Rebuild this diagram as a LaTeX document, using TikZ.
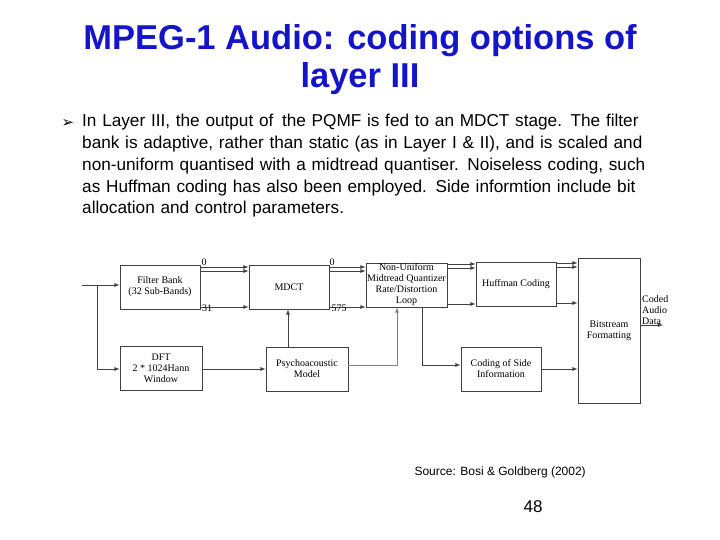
\documentclass[tikz,border=0pt]{standalone}
\usepackage{fontspec}
\setmainfont{Liberation Sans}
\newfontfamily\dfont{Liberation Serif}
\newfontfamily\djvfont{DejaVu Sans}
\definecolor{tblue}{RGB}{20,20,200}
\begin{document}
\begin{tikzpicture}[x=1pt,y=-1pt,
 blk/.style={draw=black!75,line width=0.8pt,fill=white,inner sep=0pt,font=\dfont\fontsize{10}{11}\selectfont,align=center},
 ln/.style={draw=black!75,line width=0.8pt},
 ar/.style={ln,-latex},
 lab/.style={font=\dfont\fontsize{10}{11}\selectfont,inner sep=0pt}]
\useasboundingbox (0,0) rectangle (720,540);
\node[font=\bfseries\fontsize{34.5}{38}\selectfont,text=tblue,align=center] (title) at (360,60) {MPEG-1 Audio: coding options of\\layer III};
\node[font=\djvfont\fontsize{15}{15}\selectfont] (bul) at (68,124) {➢};
\node[anchor=north west,align=left,text width=640pt,font=\fontsize{17.2}{21.8}\selectfont,inner sep=0pt] (body) at (82,114) {In Layer III, the output of\, the PQMF is fed to an MDCT stage. The filter\\bank is adaptive, rather than static (as in Layer I \& II), and is scaled and\\non-uniform quantised with a midtread quantiser. Noiseless coding, such\\as Huffman coding has also been employed. Side informtion include bit\\allocation and control parameters.};

\node[blk,minimum width=80pt,minimum height=44pt] (fb) at (160,287) {Filter Bank\\(32 Sub-Bands)};
\node[blk,minimum width=80pt,minimum height=44pt] (mdct) at (289,287) {MDCT};
\node[blk,minimum width=81pt,minimum height=44pt] (nu) at (406.5,285) {Non-Uniform\\Midtread Quantizer\\Rate/Distortion\\Loop};
\node[blk,minimum width=80pt,minimum height=44pt] (hc) at (516,284) {Huffman Coding};
\node[blk,minimum width=62pt,minimum height=145pt] (bs) at (609,330.5) {Bitstream\\Formatting};
\node[blk,minimum width=82pt,minimum height=44pt] (dft) at (161,368) {DFT\\2 * 1024Hann\\Window};
\node[blk,minimum width=82pt,minimum height=44pt] (pm) at (307,369) {Psychoacoustic\\Model};
\node[blk,minimum width=80pt,minimum height=44pt] (si) at (501,369) {Coding of Side\\Information};

\coordinate (in) at (82,285);
\coordinate (br) at (97,285);
\draw[ar] (in) -- (fb.west|-in);
\draw[ar] (br) |- (dft.west|-0,369);
\foreach \y in {267,271,307}{\draw[ar] (fb.east|-0,\y) -- (mdct.west|-0,\y);}
\foreach \y in {267,271,307}{\draw[ar] (mdct.east|-0,\y) -- (nu.west|-0,\y);}
\foreach \y in {264,268,304}{\draw[ar] (nu.east|-0,\y) -- (hc.west|-0,\y);}
\foreach \y in {263,267,303}{\draw[ar] (hc.east|-0,\y) -- (bs.west|-0,\y);}
\draw[ar] (si.east|-0,369) -- (bs.west|-0,369);
\draw[ar] (dft.east|-0,369) -- (pm.west|-0,369);
\draw[ar] (pm.north-|288,0) -- (mdct.south-|288,0);
\draw[ar,draw=black!50] (pm.east|-0,365) -| (nu.south-|397,0);
\draw[ar] (nu.south-|422,0) |- (si.west|-0,365);
\coordinate (out) at (663,325);
\draw[ar] (bs.east|-out) -- (out);
\node[lab] (l0a) at (204,262) {0};
\node[lab] (l0b) at (332,262) {0};
\node[lab] (l31) at (207,308) {31};
\node[lab] (l575) at (339,308) {575};
\node[lab,align=left,anchor=west] (cad) at (642,310) {Coded\\Audio\\Data};

\node[anchor=west,font=\fontsize{12}{13}\selectfont] (src) at (411,472) {Source: Bosi \& Goldberg (2002)};
\node[font=\fontsize{17}{18}\selectfont] (pg) at (533,507) {48};
\end{tikzpicture}
\end{document}
